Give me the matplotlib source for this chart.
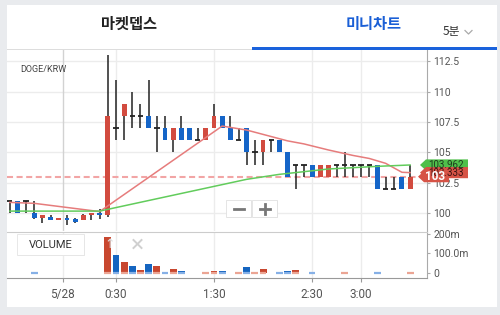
import numpy as np
import matplotlib.pyplot as plt
from matplotlib.patches import Rectangle, Polygon

plt.rcParams['font.family'] = ['Roboto', 'Noto Sans CJK KR', 'DejaVu Sans']

# DOGE/KRW 5분봉 (index 0 = 23:25 on 5/27)
opens = [101, 101, 101, 100, 99.6, 99.7, 99.4, 99.6, 99.5, 99.4, 99.8, 100, 99.8,
         107, 108, 108, 108, 108, 107, 107, 106, 107, 107, 106, 106, 107, 108, 107,
         106, 107, 105, 105, 106, 106, 105, 104, 104, 104, 103, 103, 104, 104, 104,
         104, 104, 104, 102, 102, 103, 102]
highs = [101, 101, 101, 101, 99.8, 99.8, 99.6, 99.8, 99.6, 99.9, 100, 100.3, 113,
         111, 109, 110, 109, 111, 108, 108, 107, 108, 107, 107, 107, 109, 108, 108,
         107, 107, 106, 106, 106, 106, 105, 104, 104, 104, 104, 104, 104, 105, 104,
         104, 104, 104, 103, 103, 103, 104]
lows = [100, 100, 100, 99.5, 99.2, 99.4, 99.4, 99.0, 99.2, 99.4, 99.4, 99.5, 99.7,
        106, 106, 107, 107, 107, 105, 106, 105, 106, 106, 106, 106, 107, 107, 106,
        106, 104, 104, 104, 105, 105, 103, 102, 103, 103, 103, 103, 103, 103, 103,
        103, 103, 102, 102, 102, 102, 102]
closes = [101, 100, 101, 99.6, 99.8, 99.4, 99.6, 99.4, 99.3, 99.8, 100, 99.8, 108,
          107, 109, 108, 108, 107, 107, 106, 107, 106, 106, 106, 107, 108, 107, 106,
          106, 105, 105, 106, 106, 105, 103, 104, 104, 103, 104, 104, 104, 104, 104,
          104, 104, 102, 102, 102, 102, 103]

nan = np.nan
volumes = [nan, nan, nan, 0, nan, nan, nan, nan, nan, nan, nan, nan, 184,
           91, 55, 35, 14, 43, 35, 5, 19, 9, nan, nan, 5, 8, 8, nan,
           0, 29, 5, 19, nan, 5, 8, 14, nan, 0, nan, nan, nan, 0, nan,
           nan, nan, 0, nan, nan, nan, 0]  # 단위 m

# 이동평균선 (꺾이는 지점만)
ma_red_x = [0, 3, 11, 26, 29, 34, 36, 39, 42, 44, 46, 48, 49]
ma_red_y = [100.88, 100.8, 100.12, 107.17, 106.84, 105.95, 105.7, 105.2, 104.75,
            104.5, 104.1, 103.36, 103.333]
ma_green_x = [0, 11, 29, 33, 39, 45, 49]
ma_green_y = [100.16, 100.16, 102.78, 103.19, 103.63, 103.85, 103.962]

last_price = 103
tick_pos = [6.5, 13, 25, 37, 43]
tick_labels = ["5/28", "0:30", "1:30", "2:30", "3:00"]
price_ticks = [100, 102.5, 105, 107.5, 110, 112.5]
price_labels = ["100", "102.5", "105", "107.5", "110", "112.5"]
vol_ticks = [0, 100, 200]
vol_labels = ["0", "100.0m", "200m"]

RED = '#d24b3f'
BLUE = '#1565c8'
VRED = '#c8472f'
VBLUE = '#1565c0'
PALE_RED = '#eba594'
PALE_BLUE = '#86b0e6'
GRID = '#ececec'

fig = plt.figure(figsize=(5, 3.15), dpi=100)
fig.patch.set_facecolor('#e9ebee')

bg = fig.add_axes([0, 0, 1, 1], zorder=-5)
bg.set_xlim(0, 500)
bg.set_ylim(315, 0)
bg.axis('off')
bg.add_patch(Rectangle((7, 5), 490, 302, fc='white', ec='none'))

xlim = (-0.34, 51.07)

# ---- 가격 차트
ax = fig.add_axes([7 / 500, 84 / 315, 420 / 500, 181 / 315])
ax.set_facecolor('none')
ax.set_xlim(*xlim)
ax.set_ylim(98.52, 113.44)
for s in ['left', 'top', 'bottom']:
    ax.spines[s].set_visible(False)
ax.spines['right'].set_color('#aaaaaa')
ax.yaxis.tick_right()
ax.set_yticks(price_ticks, price_labels)
ax.tick_params(axis='y', length=2.5, color='#aaaaaa', labelsize=7.5, labelcolor='#555555', pad=2)
ax.set_xticks([])
for p in price_ticks:
    ax.axhline(p, color=GRID, lw=1, zorder=0)
for i, t in enumerate(tick_pos):
    ax.axvline(t, color='#d2d2d2' if i == 0 else GRID, lw=1, zorder=0)

x = np.arange(len(opens))
o = np.array(opens)
c = np.array(closes)
ax.vlines(x, lows, highs, color='#222222', lw=1.1, zorder=3)
for i in x:
    if c[i] == o[i]:
        ax.hlines(o[i], i - 0.33, i + 0.33, color='#222222', lw=1.3, zorder=4)
    else:
        ax.bar(i, abs(c[i] - o[i]), bottom=min(o[i], c[i]), width=0.6,
               color=RED if c[i] > o[i] else BLUE, zorder=4)

ax.axhline(last_price, color='#f2a5a5', lw=1.5, ls=(0, (2.9, 1.7)), zorder=2)
ax.plot(ma_red_x, ma_red_y, color='#e67c7c', lw=1.1, zorder=5)
ax.plot(ma_green_x, ma_green_y, color='#62cc5c', lw=1.1, zorder=5)

# ---- 거래량
vax = fig.add_axes([7 / 500, 37 / 315, 420 / 500, 46.5 / 315])
vax.set_facecolor('none')
vax.set_xlim(*xlim)
vax.set_ylim(-27.3, 212.4)
vax.spines['left'].set_visible(False)
vax.spines['top'].set_color('#cccccc')
vax.spines['right'].set_color('#aaaaaa')
vax.spines['bottom'].set_color('#999999')
vax.yaxis.tick_right()
vax.set_yticks(vol_ticks, vol_labels)
vax.tick_params(axis='y', length=2.5, color='#aaaaaa', labelsize=7.5, labelcolor='#555555', pad=2)
vax.set_xticks(tick_pos, tick_labels)
vax.tick_params(axis='x', length=3, color='#999999', labelsize=8.5, labelcolor='#555555', pad=4)
for t in tick_pos:
    vax.axvline(t, color=GRID, lw=1, zorder=0)

for i in x:
    v = volumes[i]
    if np.isnan(v):
        continue
    up = c[i] > o[i] or (c[i] == o[i] and (i == 0 or c[i] >= c[i - 1]))
    if v > 0:
        vax.bar(i, v, width=0.85, color=VRED if up else VBLUE, zorder=3)
    vax.hlines(0, i - 0.42, i + 0.42, color=PALE_RED if up else PALE_BLUE, lw=1.6, zorder=4)

# ---- 오버레이 (탭, 버튼, 가격 태그)
ov = fig.add_axes([0, 0, 1, 1], zorder=10)
ov.set_facecolor('none')
ov.set_xlim(0, 500)
ov.set_ylim(315, 0)
ov.axis('off')

ov.text(129, 24, "마켓뎁스", ha='center', va='center', fontsize=11, fontweight='bold',
        color='#222222', family=['Noto Sans CJK KR'])
ov.text(374, 24, "미니차트", ha='center', va='center', fontsize=11, fontweight='bold',
        color='#1a5fd6', family=['Noto Sans CJK KR'])
ov.text(451, 32, "5분", ha='center', va='center', fontsize=8.5, color='#333333',
        family=['Noto Sans CJK KR'])
ov.plot([465, 468.5, 472], [30.5, 34, 30.5], color='#aaaaaa', lw=0.9)
ov.add_patch(Rectangle((7, 48.5), 245, 1, fc='#dddddd', ec='none'))
ov.add_patch(Rectangle((252, 47), 245, 3, fc='#1a62dc', ec='none'))

ov.text(20, 70, "DOGE/KRW", ha='left', va='center', fontsize=6.5, color='#444444')

# VOLUME 버튼
ov.add_patch(Rectangle((18, 235), 67, 21, fc='#eeeeee', ec='none'))
ov.add_patch(Rectangle((17, 234), 67, 21, fc='white', ec='#e4e4e4', lw=0.6))
ov.text(50.5, 244.5, "VOLUME", ha='center', va='center', fontsize=8, color='#333333')
ov.text(110, 244, "↑", ha='center', va='center', fontsize=9, color='#dddddd',
        family=['DejaVu Sans'])
ov.plot([133.5, 141.5], [240, 248], color='#d0d0d0', lw=1.4)
ov.plot([133.5, 141.5], [248, 240], color='#d0d0d0', lw=1.4)

# 확대/축소 버튼
for bx in [226, 252]:
    ov.add_patch(Rectangle((bx + 1, 201), 25, 17, fc='#eeeeee', ec='none'))
    ov.add_patch(Rectangle((bx, 200), 25, 16.5, fc='white', ec='#e0e0e0', lw=0.6))
ov.plot([234, 244], [208.5, 208.5], color='#777777', lw=2)
ov.plot([259.5, 269.5], [208.5, 208.5], color='#777777', lw=2)
ov.plot([264.5, 264.5], [203.5, 213.5], color='#777777', lw=2)


def ypix(v):
    return 315 - ax.transData.transform((0, v))[1]


def tag(v, x0, x1, color, text, tcolor, tx, bold=False, size=7):
    y = ypix(v)
    h = 5.6
    ov.add_patch(Polygon([(x0, y), (x0 + 6, y - h), (x1, y - h), (x1, y + h), (x0 + 6, y + h)],
                         closed=True, fc=color, ec='none'))
    ov.text(tx, y + 0.3, text, ha='center', va='center', fontsize=size, color=tcolor,
            fontweight='bold' if bold else 'normal')


tag(ma_green_y[-1], 420, 468, '#4fbf4a', f"{ma_green_y[-1]:.3f}", '#1e3a1e', 446)
tag(ma_red_y[-1], 420, 468, '#d65346', f"{ma_red_y[-1]:.3f}", '#3a1212', 446)
tag(last_price, 418, 449, '#d65346', f"{last_price}", 'white', 435, bold=True, size=8.5)

fig.savefig('out.png', dpi=100, facecolor=fig.get_facecolor())
